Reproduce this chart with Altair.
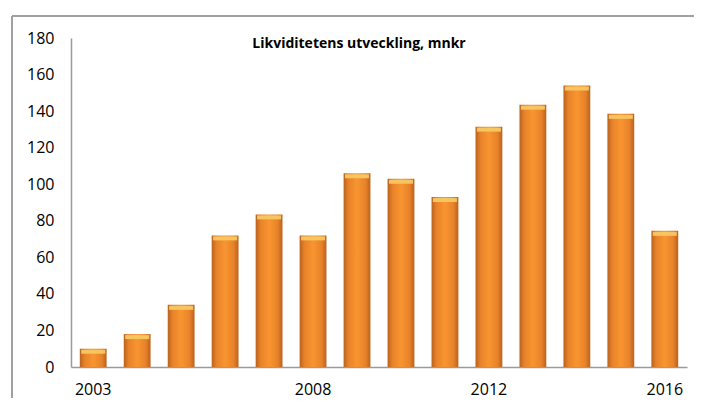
import altair as alt
import pandas as pd

years = [2003, 2004, 2005, 2006, 2007, 2008, 2009, 2010, 2011, 2012, 2013, 2014, 2015, 2016]
values = [10, 18, 34, 72, 83.5, 72, 106, 103, 93, 131.5, 143.5, 154, 138.5, 74.5]
year_labels = [2003, 2008, 2012, 2016]
title_text = "Likviditetens utveckling, mnkr"

df = pd.DataFrame({"year": years, "value": values})

FONT = "Open Sans"

x_enc = alt.X("year:O", title=None,
              scale=alt.Scale(paddingInner=0.39, paddingOuter=0.2),
              axis=alt.Axis(values=year_labels, labelAngle=0, ticks=False,
                            labelPadding=14, labelFontSize=16, labelColor="#000000",
                            labelFont=FONT, domainColor="#9a9a9a", domainWidth=1.5))
y_enc = alt.Y("value:Q", title=None,
              scale=alt.Scale(domain=[0, 180], nice=False),
              axis=alt.Axis(values=list(range(0, 181, 20)), ticks=False, grid=False,
                            labelOverlap=False,
                            labelPadding=17, labelFontSize=16, labelColor="#000000",
                            labelFont=FONT, domainColor="#9a9a9a", domainWidth=1.5))

grad = alt.Gradient(
    gradient="linear", x1=0, x2=1, y1=0, y2=0,
    stops=[
        alt.GradientStop(offset=0, color="#b9621e"),
        alt.GradientStop(offset=0.18, color="#e8822a"),
        alt.GradientStop(offset=0.5, color="#f99530"),
        alt.GradientStop(offset=0.82, color="#e8822a"),
        alt.GradientStop(offset=1, color="#b9621e"),
    ],
)

bars = alt.Chart(df).mark_bar(color=grad).encode(x=x_enc, y=y_enc)

caps = alt.Chart(df).mark_tick(
    color="#f7cb66", thickness=4, yOffset=3, opacity=0.9
).encode(x=x_enc, y=y_enc, size=alt.value(24))

left_border = alt.Chart(df).mark_rule(color="#a0a0a0", strokeWidth=1.5).encode(
    x=alt.value(-59), y=alt.value(-22), y2=alt.value(400))
top_border = alt.Chart(df).mark_rule(color="#a0a0a0", strokeWidth=1.5).encode(
    x=alt.value(-59), x2=alt.value(700), y=alt.value(-22))

title = alt.Chart(pd.DataFrame({"t": [title_text]})).mark_text(
    font=FONT, fontSize=14, fontWeight="bold", color="#000000",
    align="center", baseline="middle"
).encode(text="t:N", x=alt.value(288), y=alt.value(6))

chart = alt.layer(left_border, top_border, bars, caps, title).properties(
    width=616, height=329,
    autosize=alt.AutoSizeParams(type="none"),
    padding={"left": 63, "top": 30, "right": 7, "bottom": 31},
    background="white",
).configure_view(stroke=None)

chart.save("out.html", embed_options={"renderer": "svg", "actions": False})
